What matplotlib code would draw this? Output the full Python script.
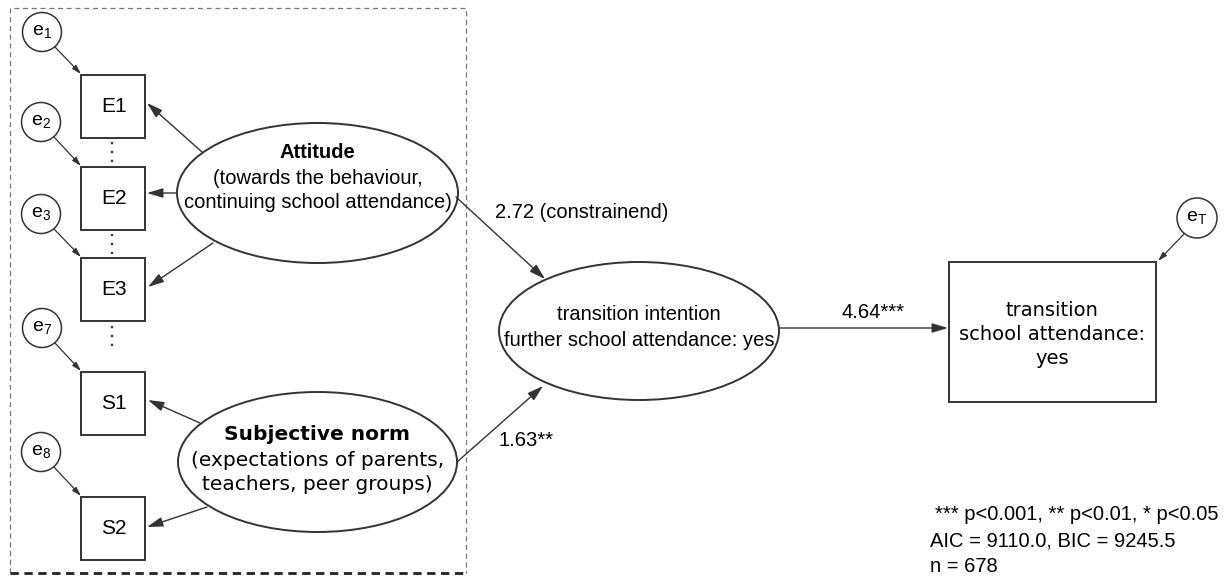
import matplotlib
matplotlib.use("Agg")
import matplotlib.pyplot as plt
from matplotlib.patches import Ellipse, Rectangle, Circle

plt.rcParams["font.family"] = ["Liberation Sans", "DejaVu Sans"]
plt.rcParams["mathtext.default"] = "regular"

# --- content ---
indicators = ["E1", "E2", "E3", "S1", "S2"]
errors = ["1", "2", "3", "7", "8"]
path_labels = ["2.72 (constrainend)", "1.63**", "4.64***"]
notes = ["*** p<0.001, ** p<0.01, * p<0.05",
         "AIC = 9110.0, BIC = 9245.5",
         "n = 678"]

# --- layout (pixel coords, y down) ---
box_x, box_w, box_h = 81, 64, 63
box_y = [75, 167, 258, 372, 497]
err_xy = [(42, 32), (41, 122), (41, 214), (42, 328), (41, 452)]
err_r = 19.5
col = "#333333"
fs = 14.5

fig = plt.figure(figsize=(12.3, 5.76), dpi=100)
ax = fig.add_axes([0, 0, 1, 1])
ax.set_xlim(0, 1230)
ax.set_ylim(576, 0)
ax.axis("off")


def arrow(p0, p1, lw=1.0, ms=16):
    ax.annotate("", xy=p1, xytext=p0,
                arrowprops=dict(arrowstyle="-|>,head_length=0.6,head_width=0.18",
                                color=col, lw=lw, mutation_scale=ms,
                                shrinkA=0, shrinkB=0))


# dashed frame
ax.plot([10, 10, 466, 466], [573, 8, 8, 573], ls=(0, (4, 3)), lw=0.9, color="#777777")
ax.plot([10, 466], [573, 573], ls=(0, (3, 2)), lw=2.0, color="#222222")

# indicator boxes and error terms
for name, y, e, (ex, ey) in zip(indicators, box_y, errors, err_xy):
    ax.add_patch(Rectangle((box_x, y), box_w, box_h, fill=False, ec=col, lw=1.4))
    ax.text(box_x + box_w / 2 + 1, y + box_h / 2, name, ha="center", va="center", fontsize=15)
    ax.add_patch(Circle((ex, ey), err_r, fill=False, ec=col, lw=1.1))
    ax.text(ex, ey, "e$_{%s}$" % e, ha="center", va="center", fontsize=14)
    arrow((ex + 13, ey + 15), (box_x, y - 1), lw=0.9, ms=9)

# dotted connectors between E boxes
for y0, y1 in [(142, 165), (234, 256), (326, 350)]:
    ax.plot([112, 112], [y0, y1], ls=(0, (1, 3)), lw=1.6, color=col)

# latent ellipses
ax.add_patch(Ellipse((317.5, 193), 281, 140, fill=False, ec=col, lw=1.4))
ax.text(317.5, 153, "Attitude", ha="center", va="center", fontsize=fs, fontweight="bold")
ax.text(317.5, 178, "(towards the behaviour,", ha="center", va="center", fontsize=fs)
ax.text(317.5, 203, "continuing school attendance)", ha="center", va="center", fontsize=fs)

ax.add_patch(Ellipse((317.5, 462), 279, 140, fill=False, ec=col, lw=1.4))
ax.text(317.5, 435, "Subjective norm", ha="center", va="center", fontsize=fs,
        fontweight="bold", family="DejaVu Sans")
ax.text(317.5, 460, "(expectations of parents,", ha="center", va="center", fontsize=fs,
        family="DejaVu Sans")
ax.text(317.5, 485, "teachers, peer groups)", ha="center", va="center", fontsize=fs,
        family="DejaVu Sans")

# loadings
arrow((202, 152), (147, 103))
arrow((176, 193), (147, 193))
arrow((213, 243), (148, 287))
arrow((200, 423), (148, 400))
arrow((207, 507), (147, 527))

# intention ellipse
ax.add_patch(Ellipse((639, 331), 280, 138, fill=False, ec=col, lw=1.4))
ax.text(639, 315, "transition intention", ha="center", va="center", fontsize=fs)
ax.text(639, 340, "further school attendance: yes", ha="center", va="center", fontsize=fs)

# outcome box
ax.add_patch(Rectangle((949, 262), 207, 140, fill=False, ec=col, lw=1.4))
for txt, y in zip(["transition", "school attendance:", "yes"], [310, 334, 358]):
    ax.text(1052, y, txt, ha="center", va="center", fontsize=14, family="DejaVu Sans")
ax.add_patch(Circle((1197, 218), 20, fill=False, ec=col, lw=1.1))
ax.text(1197, 218, "e$_T$", ha="center", va="center", fontsize=14)
arrow((1184, 234), (1158, 261), lw=0.9, ms=9)

# structural paths
arrow((456, 197), (545, 279))
arrow((457, 462), (543, 386))
arrow((779, 328), (948, 328))
ax.text(495, 212, path_labels[0], ha="left", va="center", fontsize=fs)
ax.text(498, 441, path_labels[1], ha="left", va="center", fontsize=fs)
ax.text(842, 313, path_labels[2], ha="left", va="center", fontsize=fs)

# notes
ax.text(935, 515, notes[0], ha="left", va="center", fontsize=fs)
ax.text(930, 541, notes[1], ha="left", va="center", fontsize=fs)
ax.text(930, 567, notes[2], ha="left", va="center", fontsize=fs)

fig.savefig("out.png", dpi=100)
